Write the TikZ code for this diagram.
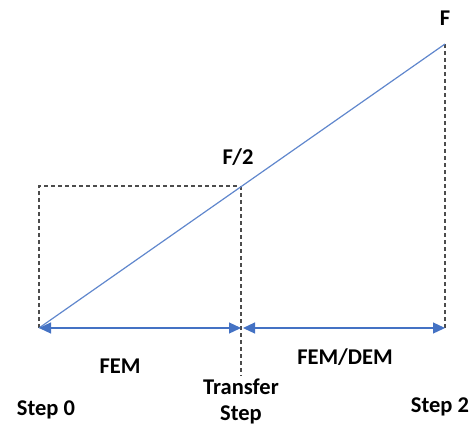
\documentclass[tikz,border=0pt]{standalone}
\usepackage{fontspec}
\setmainfont{Carlito}
\usetikzlibrary{arrows.meta}
\definecolor{lineblue}{HTML}{4472C4}

\tikzset{
  label/.style={font=\bfseries\fontsize{22.5bp}{26bp}\selectfont, align=center, inner sep=0pt},
  guide/.style={dash pattern=on 4bp off 3bp, line width=1.4bp, black!70},
  span/.style={{Triangle[length=12bp,width=11bp]}-{Triangle[length=12bp,width=11bp]}, lineblue, line width=1.2bp},
}

\begin{document}
\begin{tikzpicture}[x=1bp, y=1bp]
  \useasboundingbox (0,0) rectangle (472,430);

  % key points of the load line
  \coordinate (start) at (39,102);
  \coordinate (half) at (240,244);
  \coordinate (full) at (445,386);
  \coordinate (corner) at (39,244);
  \coordinate (transfer) at (241,102);
  \coordinate (transferlow) at (241,54);
  \coordinate (transferr) at (243,102);
  \coordinate (stop) at (445,102);

  % dashed guides
  \draw[guide] (start) -- (corner) -- (half);
  \draw[guide] (half -| transfer) -- (transferlow);
  \draw[guide] (full) -- (stop);

  % load line
  \draw[lineblue!85, line width=1.2bp] (start) -- (full);

  % ranges
  \draw[span] (start) -- (transfer);
  \draw[span] (transferr) -- (stop);

  \node[label] (F) at (445,412) {F};
  \node[label] (Fhalf) at (238,273) {F/2};
  \node[label] (fem) at (120,64) {FEM};
  \node[label] (femdem) at (345,73) {FEM/DEM};
  \node[label] (tstep) at (241,29) {Transfer\\Step};
  \node[label] (step0) at (46,20) {Step 0};
  \node[label] (step2) at (440,23) {Step 2};

\end{tikzpicture}
\end{document}
